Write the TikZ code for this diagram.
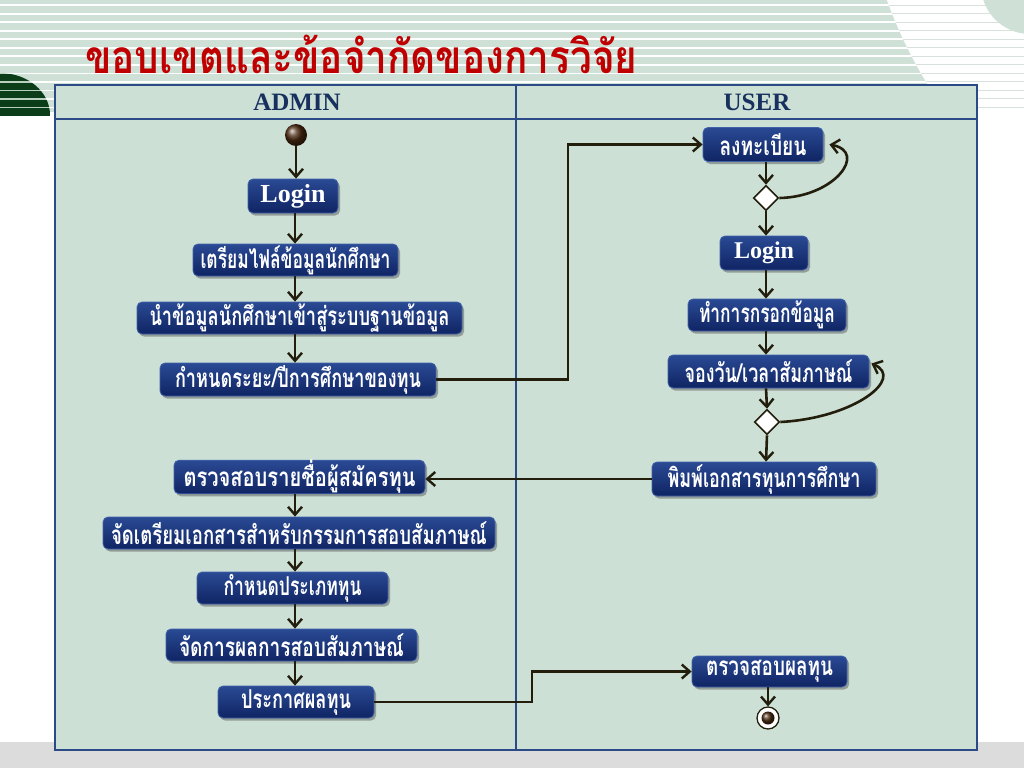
\documentclass[tikz,border=0pt]{standalone}
\usepackage{fontspec}
\usepackage{graphicx}
\setmainfont{Liberation Serif}
\newfontfamily\thai[Script=Thai]{Loma}
\usetikzlibrary{arrows.meta,shadows,shapes.geometric,calc}
\definecolor{stripe}{HTML}{CFE0D7}
\definecolor{tfill}{HTML}{CCE0D6}
\definecolor{tborder}{HTML}{2B4A86}
\definecolor{navy}{HTML}{17305E}
\definecolor{dgreen}{HTML}{0B3D18}
\definecolor{paleg}{HTML}{B9D0BF}
\definecolor{lgray}{HTML}{D9E1DC}
\definecolor{titlered}{HTML}{C00000}
\definecolor{boxtop}{HTML}{2A4A94}
\definecolor{boxbot}{HTML}{0F2463}
\definecolor{boxedge}{HTML}{4262A8}
\definecolor{connc}{HTML}{231E0C}
\definecolor{ballc}{HTML}{4A2A10}
\definecolor{bandgray}{HTML}{DCDCDC}
\newcommand\thtext[2]{\resizebox{#1pt}{\height}{\thai\bfseries\fontsize{26}{28}\selectfont #2}}
\tikzset{
  box/.style={rounded corners=5pt, top color=boxtop, bottom color=boxbot, draw=boxedge,
    line width=0.8pt, text=white, inner sep=0pt,
    drop shadow={shadow xshift=2pt, shadow yshift=-2.5pt, opacity=0.45, fill=black!70}},
  conn/.style={draw=connc, line width=2.6pt, -{Straight Barb[length=8pt,width=14pt,line width=2.4pt]}},
  deci/.style={diamond, draw=connc, fill=white, line width=1.6pt, minimum width=25pt, minimum height=25pt, inner sep=0pt},
  hdr/.style={font=\bfseries\fontsize{25}{25}\selectfont, text=navy, inner sep=0pt},
}
\begin{document}
\begin{tikzpicture}[x=1pt,y=-1pt]
\useasboundingbox (0,0) rectangle (1024,768);
% ---------- background ----------
\fill[white] (0,0) rectangle (1024,768);
\fill[stripe] (0,0) rectangle (1024,112);
\begin{scope}
  \clip (0,0) rectangle (1024,112);
  \fill[white] (1306,-150) circle[radius=445pt];
\end{scope}
\begin{scope}
  \clip (0,0) rectangle (60,115);
  \fill[dgreen] (0,115) ellipse[x radius=50pt, y radius=42pt];
\end{scope}
\foreach \k in {0,...,12}{
  \draw[white, line width=1.6pt] (0,{5.3+8.5*\k}) -- (1024,{5.3+8.5*\k});
}
\begin{scope}
  \clip (1306,-150) circle[radius=445pt];
  \foreach \k in {0,...,12}{
    \fill[white] (0,{4.3+8.5*\k}) rectangle (1024,{6.3+8.5*\k});
    \draw[lgray, line width=1.2pt] (0,{5.3+8.5*\k}) -- (1024,{5.3+8.5*\k});
  }
\end{scope}
\begin{scope}
  \clip (0,0) rectangle (60,115);
  \clip (0,115) ellipse[x radius=50pt, y radius=42pt];
  \foreach \k in {0,...,12}{
    \draw[paleg, line width=1.6pt] (0,{5.3+8.5*\k}) -- (1024,{5.3+8.5*\k});
  }
\end{scope}
\fill[stripe] (1030,-15) circle[radius=49pt];
\fill[bandgray] (0,742) rectangle (1024,768);
% ---------- title ----------
\node[anchor=base west, inner sep=0pt, text=titlered] (title) at (85,73)
  {\resizebox{552pt}{\height}{\thai\bfseries\fontsize{46}{46}\selectfont ขอบเขตและข้อจำกัดของการวิจัย}};
% ---------- table ----------
\fill[tfill] (55,85) rectangle (977,750);
\draw[tborder, line width=1.8pt] (55,85) rectangle (977,750);
\draw[tborder, line width=1.5pt] (55,119) -- (977,119);
\draw[tborder, line width=1.2pt] (516,85) -- (516,750);
\node[hdr] (hA) at (297,102) {ADMIN};
\node[hdr] (hU) at (757,102) {USER};
% ---------- admin lane ----------
\coordinate (ca) at (295,0);
\node[circle, shading=ball, ball color=ballc, minimum size=22pt, inner sep=0pt] (start) at (296,135) {};
\node[box, minimum width=90pt, minimum height=34pt, font=\bfseries\fontsize{26}{26}\selectfont] (loginA) at (293,196) {Login};
\node[box, minimum width=205pt, minimum height=32pt] (a1) at (295.5,260) {\thtext{190}{เตรียมไฟล์ข้อมูลนักศึกษา}};
\node[box, minimum width=325pt, minimum height=32pt] (a2) at (299.5,318) {\thtext{300}{นำข้อมูลนักศึกษาเข้าสู่ระบบฐานข้อมูล}};
\node[box, minimum width=276pt, minimum height=33pt] (a3) at (298,379.5) {\thtext{246}{กำหนดระยะ/ปีการศึกษาของทุน}};
\node[box, minimum width=251pt, minimum height=32pt] (a4) at (299.5,477) {\thtext{232}{ตรวจสอบรายชื่อผู้สมัครทุน}};
\node[box, minimum width=392pt, minimum height=32pt] (a5) at (299,533) {\thtext{376}{จัดเตรียมเอกสารสำหรับกรรมการสอบสัมภาษณ์}};
\node[box, minimum width=191pt, minimum height=32pt] (a6) at (292.5,588) {\thtext{138}{กำหนดประเภททุน}};
\node[box, minimum width=251pt, minimum height=32pt] (a7) at (291.5,645) {\thtext{225}{จัดการผลการสอบสัมภาษณ์}};
\node[box, minimum width=156pt, minimum height=32pt] (a8) at (296,702) {\thtext{110}{ประกาศผลทุน}};
% ---------- user lane ----------
\coordinate (cu) at (766,0);
\node[box, minimum width=120pt, minimum height=34pt] (u1) at (763,144.5) {\thtext{87}{ลงทะเบียน}};
\node[deci] (d1) at (766,198) {};
\node[box, minimum width=88pt, minimum height=34pt, font=\bfseries\fontsize{24}{24}\selectfont] (loginU) at (764,253) {Login};
\node[box, minimum width=158pt, minimum height=32pt] (u2) at (767,315) {\thtext{136}{ทำการกรอกข้อมูล}};
\node[box, minimum width=201pt, minimum height=33pt] (u3) at (768.5,371.5) {\thtext{168}{จองวัน/เวลาสัมภาษณ์}};
\node[deci] (d2) at (767,422) {};
\node[box, minimum width=224pt, minimum height=34pt] (u4) at (764,479) {\thtext{193}{พิมพ์เอกสารทุนการศึกษา}};
\node[box, minimum width=155pt, minimum height=31pt] (u5) at (769.5,671.5) {\thtext{127}{ตรวจสอบผลทุน}};
\node[circle, draw=connc, fill=white, line width=1.3pt, minimum size=22pt, inner sep=0pt] (endo) at (768,718) {};
\node[circle, shading=ball, ball color=ballc, minimum size=13pt, inner sep=0pt] (endi) at (768,718) {};
% ---------- connectors ----------
\draw[conn] (start.south) -- (start.south |- loginA.north);
\draw[conn] (loginA.south -| ca) -- (a1.north -| ca);
\draw[conn] (a1.south -| ca) -- (a2.north -| ca);
\draw[conn] (a2.south -| ca) -- (a3.north -| ca);
\draw[conn] (a4.south -| ca) -- (a5.north -| ca);
\draw[conn] (a5.south -| ca) -- (a6.north -| ca);
\draw[conn] (a6.south -| ca) -- (a7.north -| ca);
\draw[conn] (a7.south -| ca) -- (a8.north -| ca);
\draw[conn] (a3.east) -- (568,379.5) -- (568,144.5) -- (u1.west);
\draw[conn] (a8.east) -- (532,702) -- (532,671.5) -- (u5.west);
\draw[conn] (u1.south -| cu) -- (d1.north);
\draw[conn] (d1.east) .. controls (835,197) and (868,152) .. ([xshift=6pt]u1.east);
\draw[conn] (d1.south) -- (loginU.north -| cu);
\draw[conn] (loginU.south -| cu) -- (u2.north -| cu);
\draw[conn] (u2.south -| cu) -- (u3.north -| cu);
\draw[conn] (u3.south -| cu) -- (d2.north);
\draw[conn] (d2.east) .. controls (855,418) and (905,378) .. ([xshift=2pt,yshift=8pt]u3.east);
\draw[conn] (d2.south) -- (u4.north -| cu);
\draw[conn] (u4.west) -- (u4.west -| a4.east);
\draw[conn] (u5.south -| endo) -- (endo.north);
\end{tikzpicture}
\end{document}
